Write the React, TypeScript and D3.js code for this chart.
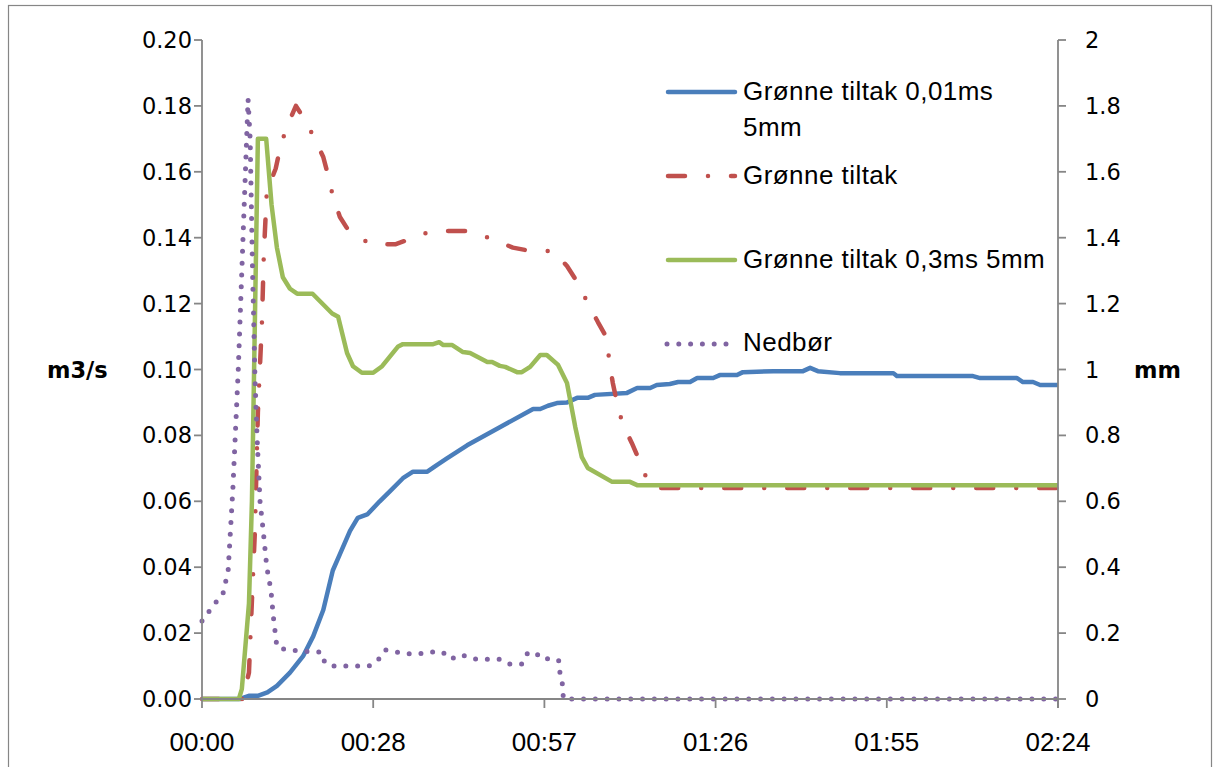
import React from "react";
import * as d3 from "d3";

// Time axis in minutes after start; flows in m3/s (left axis), rain in mm (right axis).
const timeTicks = [0, 28.8, 57.6, 86.4, 115.2, 144];
const flowTicks = [0, 0.02, 0.04, 0.06, 0.08, 0.1, 0.12, 0.14, 0.16, 0.18, 0.2];
const rainTicks = [0, 0.2, 0.4, 0.6, 0.8, 1, 1.2, 1.4, 1.6, 1.8, 2];

// Grønne tiltak 0,01ms 5mm
const flowSlow: [number, number][] = [
  [0, 0], [6.4, 0], [8, 0.001], [9.5, 0.001], [11, 0.002], [12.6, 0.004], [14.8, 0.008],
  [17, 0.013], [18.7, 0.019], [20.4, 0.027], [22, 0.039], [23.2, 0.044], [24.9, 0.051],
  [26.2, 0.055], [27.8, 0.056], [29.9, 0.06], [31.6, 0.063], [33.8, 0.067], [35.5, 0.069],
  [37.9, 0.069], [39.5, 0.071], [41.2, 0.073], [44.6, 0.077], [50.1, 0.0825], [55.7, 0.088],
  [56.9, 0.088], [58.2, 0.089], [59.7, 0.0898], [61.4, 0.09], [63.1, 0.0914], [64.9, 0.0914],
  [66.1, 0.0923], [71.5, 0.0929], [73.2, 0.0944], [75.4, 0.0944], [76.5, 0.0953], [78.7, 0.0956],
  [80.1, 0.0962], [82.1, 0.0962], [83.3, 0.0974], [86, 0.0974], [87.1, 0.0983], [90, 0.0983],
  [91, 0.0992], [96.1, 0.0995], [101.1, 0.0995], [102.3, 0.1005], [103.6, 0.0995],
  [107.3, 0.0989], [116.3, 0.0989], [116.9, 0.098], [129.7, 0.098], [130.9, 0.0974],
  [137.1, 0.0974], [138.1, 0.0962], [139.8, 0.0962], [141, 0.0953], [144, 0.0953],
];

// Grønne tiltak
const flowBase: [number, number][] = [
  [0, 0], [6.8, 0], [7.9, 0.008], [8.4, 0.03], [8.9, 0.051], [9.4, 0.087], [10.1, 0.115],
  [10.4, 0.135], [10.9, 0.154], [12.4, 0.161], [13, 0.166], [14.1, 0.173], [15.8, 0.18],
  [17, 0.1766], [18.7, 0.171], [20.4, 0.1645], [21.2, 0.159], [22, 0.1527], [23.2, 0.1463],
  [24.6, 0.1423], [25.2, 0.1417], [28.3, 0.138], [32.5, 0.138], [35, 0.1396], [38.5, 0.142],
  [45.1, 0.142], [48.8, 0.1396], [52.3, 0.137], [55.2, 0.136], [59.1, 0.136], [61.4, 0.1314],
  [63.1, 0.1266], [64.8, 0.1205], [66.6, 0.1144], [68.1, 0.1096], [68.5, 0.1026], [69.1, 0.096],
  [69.8, 0.09], [70.7, 0.0838], [72.3, 0.0777], [73.4, 0.0731], [74.9, 0.0665], [76, 0.064],
  [144, 0.064],
];

// Grønne tiltak 0,3ms 5mm
const flowFast: [number, number][] = [
  [0, 0], [6.2, 0], [6.7, 0.003], [7.9, 0.029], [8.4, 0.06], [9.4, 0.17], [10.8, 0.17],
  [11.7, 0.15], [12.6, 0.137], [13.6, 0.128], [14.8, 0.1245], [16, 0.123], [18.6, 0.123],
  [21.9, 0.117], [22.9, 0.116], [24.4, 0.105], [25.4, 0.101], [26.9, 0.099], [28.8, 0.099],
  [30.3, 0.101], [33, 0.107], [33.8, 0.1077], [38.9, 0.1077], [39.9, 0.1083], [40.6, 0.1074],
  [42.1, 0.1074], [43.9, 0.1053], [45.1, 0.105], [48, 0.1023], [48.8, 0.1023], [50.1, 0.1011],
  [51, 0.1008], [53, 0.0992], [53.8, 0.0992], [55.2, 0.1008], [56.9, 0.1044], [58, 0.1044],
  [59.9, 0.1014], [61.4, 0.0959], [62.8, 0.0825], [63.9, 0.0734], [64.9, 0.0701], [69, 0.0659],
  [72, 0.0659], [73.2, 0.0649], [144, 0.0649],
];

// Nedbør (mm)
const rain: [number, number][] = [
  [0, 0.237], [1.35, 0.27], [2.36, 0.294], [3.53, 0.32], [4.4, 0.39], [5.2, 0.64], [6.1, 1.0],
  [7.0, 1.45], [7.75, 1.82], [8.1, 1.7], [8.3, 1.5], [8.5, 1.3], [8.7, 1.15], [8.9, 0.98],
  [9.25, 0.8], [9.76, 0.6], [10.3, 0.51], [10.9, 0.4], [11.6, 0.33], [12.0, 0.25], [12.6, 0.158],
  [14.3, 0.149], [18.2, 0.143], [20, 0.143], [20.7, 0.109], [22, 0.1], [28.1, 0.1], [29.6, 0.118],
  [30.8, 0.149], [32.6, 0.143], [34.7, 0.137], [36.5, 0.137], [38.5, 0.143], [40.4, 0.143],
  [41.9, 0.121], [43.2, 0.134], [44.6, 0.13], [46.1, 0.121], [50.1, 0.121], [51.8, 0.106],
  [53.8, 0.106], [54.7, 0.137], [56, 0.143], [57.2, 0.121], [59.1, 0.124], [60.1, 0.115],
  [60.2, 0.082], [60.6, 0.049], [60.8, 0], [144, 0],
];

const seriesNames = ["Grønne tiltak 0,01ms", "Grønne tiltak", "Grønne tiltak 0,3ms 5mm", "Nedbør"];

const BLUE = "#4a7ebb";
const RED = "#c0504d";
const GREEN = "#9bbb59";
const PURPLE = "#8064a2";
const AXIS = "#868686";

const W = 1214;
const H = 767;
const left = 202;
const right = 1058;
const top = 40;
const bottom = 699;

const redDash = "17 23 0 23";
const dotDash = "0 11.8";

function timeLabel(m: number): string {
  const h = Math.floor(m / 60 + 1e-9);
  const mm = Math.floor(m - h * 60 + 1e-9);
  return `${String(h).padStart(2, "0")}:${String(mm).padStart(2, "0")}`;
}

export default function App() {
  const x = d3.scaleLinear().domain([0, 144]).range([left, right]);
  const yFlow = d3.scaleLinear().domain([0, 0.2]).range([bottom, top]);
  const yRain = d3.scaleLinear().domain([0, 2]).range([bottom, top]);

  const flowLine = d3
    .line<[number, number]>()
    .x((d) => x(d[0]))
    .y((d) => yFlow(d[1]));
  const rainLine = d3
    .line<[number, number]>()
    .x((d) => x(d[0]))
    .y((d) => yRain(d[1]));

  const tickFont = "'DejaVu Sans', Verdana, sans-serif";
  const textFont = "'Liberation Sans', Arial, sans-serif";
  const fmtFlow = d3.format(".2f");

  const legendX1 = 668;
  const legendX2 = 735;

  return (
    <svg
      width={W}
      height={H}
      style={{ position: "fixed", left: 0, top: 0, display: "block", background: "#fff" }}
    >
      <rect x={8.5} y={5.5} width={1203} height={790} fill="#fff" stroke={AXIS} strokeWidth={1.2} />

      {/* series */}
      <g fill="none" strokeLinejoin="round">
        <path d={flowLine(flowSlow) ?? ""} stroke={BLUE} strokeWidth={4.5} />
        <path
          d={flowLine(flowBase) ?? ""}
          stroke={RED}
          strokeWidth={4.5}
          strokeDasharray={redDash}
          strokeLinecap="round"
        />
        <path d={flowLine(flowFast) ?? ""} stroke={GREEN} strokeWidth={4.5} />
        <path
          d={rainLine(rain) ?? ""}
          stroke={PURPLE}
          strokeWidth={5}
          strokeDasharray={dotDash}
          strokeLinecap="round"
        />
      </g>

      {/* axes */}
      <g stroke={AXIS} strokeWidth={1.8}>
        <line x1={left} x2={left} y1={top} y2={bottom} />
        <line x1={right} x2={right} y1={top} y2={bottom + 9} />
        <line x1={left} x2={right} y1={bottom} y2={bottom} />
        {flowTicks.map((t) => (
          <line key={`lt${t}`} x1={left - 8} x2={left} y1={yFlow(t)} y2={yFlow(t)} />
        ))}
        {rainTicks.map((t) => (
          <line key={`rt${t}`} x1={right} x2={right + 8} y1={yRain(t)} y2={yRain(t)} />
        ))}
        {timeTicks.map((t) => (
          <line key={`xt${t}`} x1={x(t)} x2={x(t)} y1={bottom} y2={bottom + 9} />
        ))}
      </g>

      <g fontFamily={tickFont} fontSize={22.5} fill="#000">
        {flowTicks.map((t) => (
          <text key={`ll${t}`} x={192} y={yFlow(t)} textAnchor="end" dominantBaseline="central">
            {fmtFlow(t)}
          </text>
        ))}
        {rainTicks.map((t) => (
          <text key={`rl${t}`} x={1085} y={yRain(t)} textAnchor="start" dominantBaseline="central">
            {String(+t.toFixed(1))}
          </text>
        ))}
        <text x={47} y={yFlow(0.1)} fontWeight="bold" dominantBaseline="central">
          m3/s
        </text>
        <text x={1134} y={yRain(1)} fontWeight="bold" dominantBaseline="central">
          mm
        </text>
      </g>

      <g fontFamily={textFont} fontSize={26} fill="#000">
        {timeTicks.map((t) => (
          <text key={`xl${t}`} x={x(t)} y={742} textAnchor="middle" dominantBaseline="central">
            {timeLabel(t)}
          </text>
        ))}
      </g>

      {/* legend */}
      <g fontFamily={textFont} fontSize={26} fill="#000" letterSpacing={0.45}>
        <line x1={legendX1} x2={legendX2} y1={92} y2={92} stroke={BLUE} strokeWidth={4.5} strokeLinecap="round" />
        <text x={743} y={91} dominantBaseline="central">{seriesNames[0]}</text>
        <text x={743} y={127} dominantBaseline="central">5mm</text>

        <line
          x1={legendX1}
          x2={legendX2}
          y1={176}
          y2={176}
          stroke={RED}
          strokeWidth={4.5}
          strokeDasharray={redDash}
          strokeLinecap="round"
        />
        <text x={743} y={175} dominantBaseline="central">{seriesNames[1]}</text>

        <line x1={legendX1} x2={legendX2} y1={260} y2={260} stroke={GREEN} strokeWidth={4.5} strokeLinecap="round" />
        <text x={743} y={259} dominantBaseline="central">{seriesNames[2]}</text>

        <line
          x1={667}
          x2={728}
          y1={344}
          y2={344}
          stroke={PURPLE}
          strokeWidth={5}
          strokeDasharray={dotDash}
          strokeLinecap="round"
        />
        <text x={743} y={342} dominantBaseline="central">{seriesNames[3]}</text>
      </g>
    </svg>
  );
}
